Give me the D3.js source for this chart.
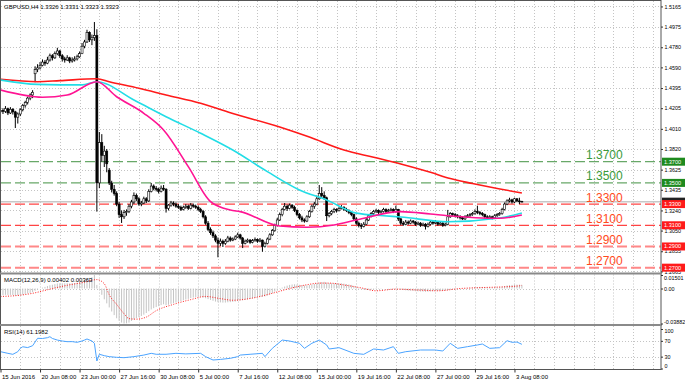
<!DOCTYPE html>
<html lang="en">
<head>
<meta charset="utf-8">
<title>GBPUSD,H4</title>
<script src="https://cdn.jsdelivr.net/npm/d3@7"></script>
<style>
  body { margin: 0; background: #fff; }
  text { font-family: "Liberation Sans", Arial, sans-serif; }
</style>
</head>
<body>
<svg id="chart" width="685" height="383"></svg>
<script>
// ---- data (H4 bars, index 0 = first visible bar) ----
const opens = [
  1.4170,1.4185,1.4175,1.4200,1.4160,1.4195,1.4170,1.4120,1.4150,1.4190,
  1.4230,1.4260,1.4300,1.4330,1.4530,1.4570,1.4585,1.4610,1.4640,1.4630,
  1.4660,1.4700,1.4680,1.4720,1.4745,1.4700,1.4670,1.4660,1.4680,1.4650,
  1.4660,1.4670,1.4690,1.4720,1.4790,1.4830,1.4920,1.4850,1.4870,1.4890,
  1.3500,1.3880,1.3760,1.3800,1.3620,1.3500,1.3440,1.3400,1.3300,1.3200,
  1.3180,1.3220,1.3230,1.3280,1.3320,1.3380,1.3350,1.3300,1.3310,1.3350,
  1.3330,1.3420,1.3470,1.3450,1.3440,1.3420,1.3450,1.3440,1.3260,1.3290,
  1.3310,1.3300,1.3280,1.3270,1.3250,1.3270,1.3280,1.3260,1.3290,1.3280,
  1.3270,1.3250,1.3230,1.3180,1.3120,1.3060,1.3030,1.3000,1.2960,1.2930,
  1.2950,1.2930,1.2950,1.2980,1.2960,1.2970,1.2990,1.3010,1.2980,1.2930,
  1.2950,1.2960,1.2940,1.2955,1.2965,1.2950,1.2960,1.2900,1.2930,1.2970,
  1.3010,1.3050,1.3100,1.3150,1.3200,1.3250,1.3280,1.3260,1.3290,1.3270,
  1.3240,1.3200,1.3170,1.3150,1.3140,1.3180,1.3230,1.3280,1.3300,1.3350,
  1.3400,1.3380,1.3360,1.3190,1.3210,1.3230,1.3250,1.3240,1.3260,1.3270,
  1.3250,1.3240,1.3220,1.3200,1.3160,1.3120,1.3100,1.3090,1.3110,1.3150,
  1.3190,1.3210,1.3230,1.3240,1.3220,1.3230,1.3250,1.3230,1.3240,1.3250,
  1.3230,1.3250,1.3160,1.3120,1.3110,1.3130,1.3120,1.3140,1.3130,1.3110,
  1.3120,1.3100,1.3110,1.3090,1.3110,1.3130,1.3120,1.3130,1.3110,1.3120,
  1.3100,1.3110,1.3180,1.3210,1.3200,1.3190,1.3180,1.3170,1.3160,1.3180,
  1.3190,1.3200,1.3210,1.3230,1.3220,1.3210,1.3200,1.3180,1.3170,1.3180,
  1.3170,1.3190,1.3200,1.3210,1.3250,1.3300,1.3330,1.3340,1.3320,1.3350,
  1.3330,1.3326
];
const highs = [
  1.4215,1.4205,1.4225,1.4210,1.4215,1.4205,1.4180,1.4165,1.4205,1.4245,
  1.4275,1.4315,1.4345,1.4375,1.4600,1.4620,1.4640,1.4665,1.4660,1.4690,
  1.4720,1.4715,1.4740,1.4775,1.4755,1.4715,1.4690,1.4705,1.4690,1.4685,
  1.4695,1.4710,1.4740,1.4820,1.4850,1.4945,1.4930,1.4900,1.5018,1.4950,
  1.3980,1.3960,1.3850,1.3820,1.3640,1.3520,1.3480,1.3420,1.3320,1.3240,
  1.3245,1.3250,1.3300,1.3340,1.3410,1.3400,1.3365,1.3330,1.3370,1.3365,
  1.3440,1.3500,1.3485,1.3470,1.3455,1.3475,1.3480,1.3450,1.3300,1.3330,
  1.3325,1.3315,1.3300,1.3285,1.3285,1.3300,1.3295,1.3310,1.3305,1.3295,
  1.3285,1.3265,1.3245,1.3195,1.3140,1.3080,1.3050,1.3015,1.2985,1.2975,
  1.2965,1.2970,1.3000,1.2995,1.2985,1.3005,1.3030,1.3020,1.2990,1.2965,
  1.2975,1.2970,1.2970,1.2985,1.2975,1.2980,1.2965,1.2945,1.2985,1.3025,
  1.3065,1.3115,1.3170,1.3220,1.3265,1.3310,1.3295,1.3305,1.3300,1.3285,
  1.3250,1.3215,1.3190,1.3165,1.3195,1.3245,1.3295,1.3320,1.3380,1.3480,
  1.3460,1.3420,1.3370,1.3225,1.3245,1.3265,1.3260,1.3275,1.3290,1.3280,
  1.3265,1.3250,1.3235,1.3210,1.3175,1.3135,1.3120,1.3130,1.3170,1.3205,
  1.3225,1.3245,1.3255,1.3250,1.3245,1.3265,1.3260,1.3255,1.3265,1.3260,
  1.3285,1.3255,1.3170,1.3140,1.3150,1.3145,1.3155,1.3150,1.3140,1.3135,
  1.3130,1.3125,1.3120,1.3125,1.3145,1.3140,1.3150,1.3140,1.3135,1.3130,
  1.3125,1.3245,1.3225,1.3220,1.3215,1.3205,1.3195,1.3185,1.3195,1.3205,
  1.3215,1.3225,1.3250,1.3285,1.3235,1.3225,1.3210,1.3195,1.3195,1.3190,
  1.3205,1.3215,1.3225,1.3265,1.3315,1.3345,1.3360,1.3350,1.3360,1.3355,
  1.3360,1.3331
];
const lows = [
  1.4150,1.4150,1.4160,1.4140,1.4150,1.4145,1.4018,1.4060,1.4130,1.4175,
  1.4210,1.4240,1.4280,1.4300,1.4450,1.4545,1.4570,1.4600,1.4605,1.4620,
  1.4645,1.4655,1.4670,1.4705,1.4680,1.4645,1.4635,1.4650,1.4630,1.4635,
  1.4645,1.4655,1.4680,1.4715,1.4770,1.4820,1.4830,1.4800,1.4840,1.3229,
  1.3450,1.3700,1.3650,1.3600,1.3480,1.3410,1.3380,1.3280,1.3170,1.3122,
  1.3160,1.3190,1.3215,1.3260,1.3300,1.3330,1.3285,1.3280,1.3300,1.3310,
  1.3320,1.3410,1.3430,1.3420,1.3400,1.3410,1.3425,1.3220,1.3240,1.3275,
  1.3280,1.3265,1.3255,1.3235,1.3240,1.3255,1.3245,1.3250,1.3265,1.3255,
  1.3235,1.3215,1.3165,1.3105,1.3045,1.3010,1.2980,1.2940,1.2798,1.2905,
  1.2895,1.2915,1.2940,1.2945,1.2950,1.2960,1.2980,1.2965,1.2885,1.2920,
  1.2935,1.2925,1.2930,1.2945,1.2935,1.2940,1.2850,1.2890,1.2920,1.2960,
  1.3000,1.3040,1.3090,1.3140,1.3185,1.3240,1.3235,1.3250,1.3255,1.3225,
  1.3185,1.3155,1.3130,1.3125,1.3130,1.3170,1.3220,1.3255,1.3290,1.3340,
  1.3360,1.3340,1.3140,1.3175,1.3195,1.3215,1.3220,1.3230,1.3250,1.3235,
  1.3225,1.3205,1.3185,1.3145,1.3105,1.3080,1.3065,1.3080,1.3100,1.3140,
  1.3175,1.3195,1.3215,1.3205,1.3210,1.3220,1.3215,1.3220,1.3230,1.3215,
  1.3220,1.3140,1.3100,1.3095,1.3100,1.3105,1.3110,1.3115,1.3095,1.3100,
  1.3085,1.3090,1.3060,1.3080,1.3100,1.3105,1.3110,1.3095,1.3100,1.3085,
  1.3090,1.3100,1.3170,1.3185,1.3175,1.3165,1.3155,1.3150,1.3150,1.3170,
  1.3180,1.3190,1.3200,1.3205,1.3195,1.3185,1.3165,1.3155,1.3160,1.3155,
  1.3160,1.3180,1.3190,1.3200,1.3240,1.3290,1.3315,1.3305,1.3310,1.3320,
  1.3300,1.3323
];
const closes = [
  1.4185,1.4175,1.4200,1.4160,1.4195,1.4170,1.4120,1.4150,1.4190,1.4230,
  1.4260,1.4300,1.4330,1.4355,1.4570,1.4585,1.4610,1.4640,1.4630,1.4660,
  1.4700,1.4680,1.4720,1.4745,1.4700,1.4670,1.4660,1.4680,1.4650,1.4660,
  1.4670,1.4690,1.4720,1.4790,1.4830,1.4920,1.4850,1.4870,1.4890,1.3500,
  1.3880,1.3760,1.3800,1.3680,1.3500,1.3440,1.3400,1.3300,1.3200,1.3180,
  1.3220,1.3230,1.3280,1.3320,1.3380,1.3350,1.3300,1.3310,1.3350,1.3330,
  1.3420,1.3470,1.3450,1.3440,1.3420,1.3450,1.3440,1.3260,1.3290,1.3310,
  1.3300,1.3280,1.3270,1.3250,1.3270,1.3280,1.3260,1.3290,1.3280,1.3270,
  1.3250,1.3230,1.3180,1.3120,1.3060,1.3030,1.3000,1.2960,1.2930,1.2950,
  1.2930,1.2950,1.2980,1.2960,1.2970,1.2990,1.3010,1.2980,1.2930,1.2950,
  1.2960,1.2940,1.2955,1.2965,1.2950,1.2960,1.2900,1.2930,1.2970,1.3010,
  1.3050,1.3100,1.3150,1.3200,1.3250,1.3280,1.3260,1.3290,1.3270,1.3240,
  1.3200,1.3170,1.3150,1.3140,1.3180,1.3230,1.3280,1.3300,1.3350,1.3400,
  1.3380,1.3360,1.3190,1.3210,1.3230,1.3250,1.3240,1.3260,1.3270,1.3250,
  1.3240,1.3220,1.3200,1.3160,1.3120,1.3100,1.3090,1.3110,1.3150,1.3190,
  1.3210,1.3230,1.3240,1.3220,1.3230,1.3250,1.3230,1.3240,1.3250,1.3230,
  1.3250,1.3160,1.3120,1.3110,1.3130,1.3120,1.3140,1.3130,1.3110,1.3120,
  1.3100,1.3110,1.3090,1.3110,1.3130,1.3120,1.3130,1.3110,1.3120,1.3100,
  1.3110,1.3180,1.3210,1.3200,1.3190,1.3180,1.3170,1.3160,1.3180,1.3190,
  1.3200,1.3210,1.3230,1.3220,1.3210,1.3200,1.3180,1.3170,1.3180,1.3170,
  1.3190,1.3200,1.3210,1.3250,1.3300,1.3330,1.3340,1.3320,1.3350,1.3330,
  1.3326,1.3323
];

// moving averages, sampled as [bar, price]
const maRed = [[0,1.4478],[15,1.4455],[24,1.4465],[39,1.4483],[44,1.4455],[56,1.4393],[67,1.4330],
  [81,1.4251],[93,1.4162],[113,1.4027],[125,1.3932],[139,1.3810],[151,1.3742],[162,1.3679],
  [174,1.3600],[182,1.3541],[191,1.3494],[211,1.3405]];
const maCyan = [[0,1.4471],[15,1.4430],[33,1.4425],[39,1.4455],[54,1.4282],[67,1.4125],[81,1.3968],
  [94,1.3810],[108,1.3606],[121,1.3433],[132,1.3339],[144,1.3215],[155,1.3190],[162,1.3178],
  [181,1.3134],[202,1.3169],[211,1.3216]];
const maMagenta = [[0,1.4376],[17,1.4308],[27,1.4329],[39,1.4455],[47,1.4313],[58,1.4157],[66,1.3999],
  [76,1.3653],[85,1.3323],[93,1.3244],[97,1.3229],[113,1.3093],[124,1.3082],[135,1.3103],
  [144,1.3150],[162,1.3229],[174,1.3206],[181,1.3190],[202,1.3166],[211,1.3197]];

const levels = [1.3700, 1.3500, 1.3300, 1.3100, 1.2900, 1.2700];
const levelText = ["1.3700", "1.3500", "1.3300", "1.3100", "1.2900", "1.2700"];
const bidPrice = 1.3323;
const priceTicks = [1.5165,1.4975,1.4780,1.4590,1.4395,1.4205,1.4010,1.3820,1.3625,1.3435,1.3240,1.3050,1.2855,1.2665];

// MACD(12,26,9): main value per bar, signal sampled as [bar, value]
const macdMain = [
  -0.0072,-0.0072,-0.0070,-0.0073,-0.0071,-0.0072,-0.0080,-0.0078,-0.0074,-0.0068,
  -0.0062,-0.0056,-0.0050,-0.0040,-0.0025,-0.0012,0.0000,0.0010,0.0018,0.0027,
  0.0036,0.0042,0.0049,0.0056,0.0058,0.0058,0.0058,0.0059,0.0058,0.0059,
  0.0061,0.0065,0.0071,0.0082,0.0094,0.0112,0.0118,0.0126,0.01501,0.0040,
  -0.0010,-0.0070,-0.0120,-0.0165,-0.0210,-0.0255,-0.0295,-0.0330,-0.0358,-0.0378,
  -0.03882,-0.0386,-0.0378,-0.0360,-0.0345,-0.0330,-0.0318,-0.0305,-0.0290,-0.0272,
  -0.0252,-0.0232,-0.0218,-0.0206,-0.0196,-0.0184,-0.0175,-0.0185,-0.0180,-0.0170,
  -0.0162,-0.0155,-0.0147,-0.0140,-0.0130,-0.0122,-0.0115,-0.0106,-0.0100,-0.0094,
  -0.0092,-0.0093,-0.0100,-0.0108,-0.0118,-0.0127,-0.0136,-0.0145,-0.0152,-0.0154,
  -0.0156,-0.0156,-0.0153,-0.0151,-0.0148,-0.0145,-0.0138,-0.0133,-0.0130,-0.0125,
  -0.0120,-0.0115,-0.0110,-0.0104,-0.0098,-0.0093,-0.0092,-0.0088,-0.0078,-0.0065,
  -0.0050,-0.0035,-0.0020,-0.0005,0.0010,0.0022,0.0032,0.0040,0.0045,0.0047,
  0.0045,0.0041,0.0037,0.0034,0.0035,0.0039,0.0045,0.0051,0.0059,0.0068,
  0.0072,0.0074,0.0066,0.0061,0.0059,0.0059,0.0057,0.0057,0.0057,0.0054,
  0.0050,0.0045,0.0040,0.0030,0.0018,0.0006,-0.0004,-0.0010,-0.0015,-0.0015,
  -0.0013,-0.0010,-0.0006,-0.0005,-0.0003,0.0000,0.0000,0.0002,0.0004,0.0004,
  0.0006,-0.0003,-0.0010,-0.0017,-0.0020,-0.0024,-0.0025,-0.0027,-0.0030,-0.0031,
  -0.0033,-0.0034,-0.0036,-0.0035,-0.0032,-0.0031,-0.0029,-0.0028,-0.0026,-0.0026,
  -0.0025,-0.0018,-0.0010,-0.0005,-0.0002,0.0000,0.0000,-0.0001,0.0002,0.0005,
  0.0008,0.0011,0.0015,0.0017,0.0018,0.0018,0.0016,0.0014,0.0013,0.0011,
  0.0012,0.0013,0.0015,0.0020,0.0027,0.0034,0.0038,0.0040,0.0043,0.0043,
  0.0043,0.00402
];
const macdSignal = [[0,-0.0088],[7,-0.0077],[13,-0.0053],[20,-0.0007],[27,0.0036],[34,0.0070],
  [39,0.0099],[42,0.0053],[44,-0.0070],[47,-0.0176],[50,-0.0280],[52,-0.0334],[55,-0.0340],
  [59,-0.0317],[63,-0.0246],[70,-0.0176],[77,-0.0123],[83,-0.0088],[89,-0.0112],[94,-0.0130],
  [102,-0.0106],[110,-0.0053],[117,0.0000],[124,0.0042],[129,0.0060],[133,0.0060],[140,0.0035],
  [146,0.0007],[152,-0.0025],[160,-0.0007],[170,-0.0018],[177,-0.0025],[186,0.0000],[194,0.0010],
  [203,0.0018],[210,0.0030],[211,0.00363]];
const macdTicks = [0.01501, 0.00, -0.03882];
const macdTickText = ["0.01501", "0.00", "-0.03882"];

// RSI(14), sampled as [bar, value]
const rsi = [[0,42.6],[3,38.4],[5,35.9],[7,42.6],[8,51],[9,55],[11,53],[13,57.7],[15,76.4],[17,76],
  [19,78],[20,80.5],[21,76],[23,72],[25,69.6],[27,67.9],[29,68],[31,66.3],[33,69.6],[34,72],
  [35,74.7],[37,69.6],[38,63.8],[39,19],[40,36],[42,32.5],[44,30],[47,28.3],[50,27.4],[54,30],
  [58,34],[61,38.4],[63,36],[67,36],[71,38.4],[75,37],[81,38.4],[83,30],[86,21.5],[89,23],
  [93,25.8],[96,30],[97,34],[101,36],[106,38.4],[107,30],[110,51],[114,72],[117,69.6],[121,63.8],
  [123,51],[126,63.8],[129,72],[132,59.5],[133,49.4],[137,52.7],[143,38.4],[147,35.9],[151,49.4],
  [155,46.8],[159,55.3],[161,38.4],[164,42.6],[170,46.8],[176,46.8],[179,44.3],[182,63.8],
  [185,51],[189,55.3],[193,59.5],[195,62],[198,51],[202,52.7],[205,70.4],[207,66.3],[209,67],[211,61.2]];
const rsiTicks = [100, 70, 30, 0];

// time axis: bar index of each label
const timeIdx = [0,16,32,48,64,80,96,112,128,144,160,176,192,208];
const timeText = ["15 Jun 2016","20 Jun 08:00","23 Jun 00:00","27 Jun 16:00","30 Jun 08:00",
  "5 Jul 00:00","7 Jul 16:00","12 Jul 08:00","15 Jul 00:00","19 Jul 16:00","22 Jul 08:00",
  "27 Jul 00:00","29 Jul 16:00","3 Aug 08:00"];

// ---- layout ----
const svg = d3.select("#chart");
const plotR = 661;
const main = {top: 1, bottom: 272.5};
const macdP = {top: 274.5, bottom: 324};
const rsiP = {top: 326, bottom: 369.5};

const x = d3.scaleLinear().domain([0, 267.3]).range([0.5, plotR]);
const y = d3.scaleLinear().domain([1.2645, 1.5207]).range([273.5, 2]);
const yMacd = d3.scaleLinear().domain([-0.03882, 0.01501]).range([323.5, 275]);
const yRsi = d3.scaleLinear().domain([0, 100]).range([368.5, 329]);

const greenTxt = "#3a9a3a", greenLine = "#68a868", greenBox = "#1e8a1e";
const redTxt = "#ff4a1c", redLine = "#ff4444", redBox = "#ff1a1a";
const gridCol = "#c4c4c4";

svg.append("rect").attr("width", 685).attr("height", 383).attr("fill", "#fff");

const defs = svg.append("defs");
[["clipMain", main], ["clipMacd", macdP], ["clipRsi", rsiP]].forEach(function (c) {
  defs.append("clipPath").attr("id", c[0]).append("rect")
    .attr("x", 1).attr("y", c[1].top).attr("width", plotR - 1).attr("height", c[1].bottom - c[1].top);
});

// vertical grid every 8 bars in all panels
const vGrid = d3.range(8, 267, 8);
[main, macdP, rsiP].forEach(function (p) {
  svg.append("g").selectAll("line").data(vGrid).enter().append("line")
    .attr("x1", d => Math.round(x(d)) + 0.5).attr("x2", d => Math.round(x(d)) + 0.5)
    .attr("y1", p.top).attr("y2", p.bottom)
    .attr("stroke", gridCol).attr("stroke-dasharray", "1,2");
});

// ---- main panel ----
const gMain = svg.append("g").attr("clip-path", "url(#clipMain)");
gMain.selectAll(".hgrid").data(priceTicks).enter().append("line")
  .attr("x1", 1).attr("x2", plotR)
  .attr("y1", d => Math.round(y(d)) + 0.5).attr("y2", d => Math.round(y(d)) + 0.5)
  .attr("stroke", gridCol).attr("stroke-dasharray", "1,2");

// bid line
gMain.append("line").attr("x1", 1).attr("x2", plotR)
  .attr("y1", y(bidPrice)).attr("y2", y(bidPrice))
  .attr("stroke", "#c8c8c8").attr("stroke-width", 1.5);

// level lines
gMain.selectAll(".lvl").data(levels).enter().append("line")
  .attr("x1", 1).attr("x2", plotR)
  .attr("y1", d => y(d)).attr("y2", d => y(d))
  .attr("stroke", d => d >= 1.35 ? greenLine : (d < 1.30 ? "#ff8888" : redLine))
  .attr("stroke-width", d => d < 1.30 ? 2 : 1.3)
  .attr("stroke-dasharray", "10,4");

gMain.selectAll(".lvlText").data(levels).enter().append("text")
  .attr("x", 586).attr("y", d => y(d) - 2.5)
  .attr("fill", d => d >= 1.35 ? greenTxt : redTxt)
  .style("font-size", "12px")
  .text((d, i) => levelText[i]);

// candles
const bars = d3.range(closes.length);
gMain.append("g").selectAll("line").data(bars).enter().append("line")
  .attr("x1", i => x(i)).attr("x2", i => x(i))
  .attr("y1", i => y(highs[i])).attr("y2", i => y(lows[i]))
  .attr("stroke", "#000").attr("stroke-width", 1);
gMain.append("g").selectAll("rect").data(bars).enter().append("rect")
  .attr("x", i => x(i) - 1).attr("width", 2)
  .attr("y", i => y(Math.max(opens[i], closes[i])))
  .attr("height", i => Math.max(0.8, Math.abs(y(opens[i]) - y(closes[i]))))
  .attr("fill", i => closes[i] >= opens[i] ? "#fff" : "#000")
  .attr("stroke", "#000").attr("stroke-width", 0.6);

// moving averages
const maLine = d3.line().x(d => x(d[0])).y(d => y(d[1])).curve(d3.curveMonotoneX);
[[maRed, "#ff1a1a"], [maCyan, "#22dde6"], [maMagenta, "#ff1493"]].forEach(function (m) {
  gMain.append("path").datum(m[0]).attr("d", maLine)
    .attr("fill", "none").attr("stroke", m[1]).attr("stroke-width", 1.6);
});

// title
svg.append("text").attr("x", 4).attr("y", 8.5).style("font-size", "6px").attr("fill", "#000")
  .text("GBPUSD,H4  1.3326 1.3331 1.3323 1.3323");

// ---- MACD panel ----
const gMacd = svg.append("g").attr("clip-path", "url(#clipMacd)");
gMacd.append("line").attr("x1", 1).attr("x2", plotR)
  .attr("y1", Math.round(yMacd(0)) + 0.5).attr("y2", Math.round(yMacd(0)) + 0.5)
  .attr("stroke", gridCol).attr("stroke-dasharray", "1,2");
gMacd.append("g").selectAll("line").data(bars).enter().append("line")
  .attr("x1", i => x(i)).attr("x2", i => x(i))
  .attr("y1", yMacd(0)).attr("y2", i => yMacd(macdMain[i]))
  .attr("stroke", "#c4c4c4").attr("stroke-width", 1);
gMacd.append("path").datum(macdSignal)
  .attr("d", d3.line().x(d => x(d[0])).y(d => yMacd(d[1])).curve(d3.curveMonotoneX))
  .attr("fill", "none").attr("stroke", "#ff2020").attr("stroke-width", 1)
  .attr("stroke-dasharray", "1,1.5");
svg.append("text").attr("x", 4).attr("y", 281.5).style("font-size", "6px")
  .text("MACD(12,26,9) 0.00402 0.00363");

// ---- RSI panel ----
const gRsi = svg.append("g").attr("clip-path", "url(#clipRsi)");
gRsi.selectAll(".rg").data([70, 30]).enter().append("line")
  .attr("x1", 1).attr("x2", plotR)
  .attr("y1", d => Math.round(yRsi(d)) + 0.5).attr("y2", d => Math.round(yRsi(d)) + 0.5)
  .attr("stroke", gridCol).attr("stroke-dasharray", "1,2");
gRsi.append("path").datum(rsi)
  .attr("d", d3.line().x(d => x(d[0])).y(d => yRsi(d[1])))
  .attr("fill", "none").attr("stroke", "#4aa3ff").attr("stroke-width", 1);
svg.append("text").attr("x", 4).attr("y", 334).style("font-size", "6px")
  .text("RSI(14) 61.1982");

// ---- frames and separators ----
svg.append("rect").attr("x", 0.5).attr("y", 0.5).attr("width", plotR - 0.5).attr("height", 369)
  .attr("fill", "none").attr("stroke", "#555");
svg.append("rect").attr("x", 0).attr("y", 272.5).attr("width", plotR + 1).attr("height", 2).attr("fill", "#8a8a8a");
svg.append("rect").attr("x", 0).attr("y", 324).attr("width", plotR + 1).attr("height", 2).attr("fill", "#8a8a8a");

// ---- right axes ----
function styleAxis(g, shifts) {
  g.select(".domain").remove();
  g.selectAll(".tick line").attr("stroke", "#333");
  g.selectAll(".tick text").style("font-size", "5.4px").attr("fill", "#000")
    .style("font-family", "'Liberation Sans', Arial, sans-serif")
    .attr("transform", (d, i) => "translate(0," + (shifts ? shifts[i] : 0) + ")");
}
svg.append("g").attr("transform", "translate(" + plotR + ",0)")
  .call(d3.axisRight(y).tickValues(priceTicks).tickFormat(d3.format(".4f")).tickSize(2).tickPadding(1.5))
  .call(styleAxis);
svg.append("g").attr("transform", "translate(" + plotR + ",0)")
  .call(d3.axisRight(yMacd).tickValues(macdTicks).tickFormat((d, i) => macdTickText[i]).tickSize(2).tickPadding(1))
  .call(styleAxis, [2.5, 0, -2]);
svg.append("g").attr("transform", "translate(" + plotR + ",0)")
  .call(d3.axisRight(yRsi).tickValues(rsiTicks).tickFormat(d3.format("d")).tickSize(2).tickPadding(1.5))
  .call(styleAxis, [2, 0, 0, -2.5]);

// level boxes on the price scale (bid box sits just behind the 1.3300 one)
svg.append("rect").attr("x", plotR + 1).attr("y", y(bidPrice) - 4).attr("width", 23).attr("height", 8).attr("fill", "#222");
levels.forEach(function (v, i) {
  svg.append("rect").attr("x", plotR + 1).attr("y", y(v) - 4).attr("width", 23).attr("height", 8)
    .attr("fill", v >= 1.35 ? greenBox : redBox);
  svg.append("text").attr("x", plotR + 3).attr("y", y(v) + 2).style("font-size", "5.6px")
    .attr("fill", "#fff").text(levelText[i]);
});

// ---- time axis ----
svg.append("g").attr("transform", "translate(0," + rsiP.bottom + ")")
  .call(d3.axisBottom(x).tickValues(timeIdx).tickFormat((d, i) => timeText[i]).tickSize(3).tickPadding(2))
  .call(function (g) {
    g.select(".domain").remove();
    g.selectAll(".tick line").attr("stroke", "#333");
    g.selectAll(".tick text").style("font-size", "6px").attr("fill", "#000")
      .attr("text-anchor", "start").attr("dx", "1");
  });
</script>
</body>
</html>
